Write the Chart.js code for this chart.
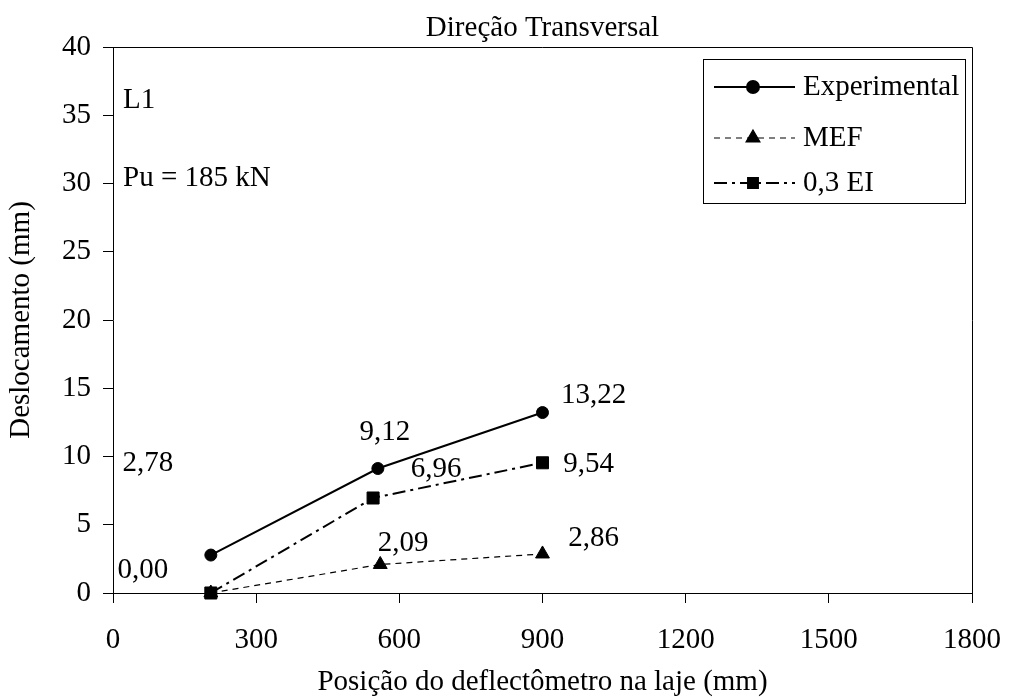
<!DOCTYPE html>
<html>
<head>
<meta charset="utf-8">
<script src="https://cdn.jsdelivr.net/npm/chart.js@4/dist/chart.umd.min.js"></script>
<style>
  html, body { margin: 0; padding: 0; background: #ffffff; }
  #wrap { width: 1012px; height: 700px; }
</style>
</head>
<body>
<div id="wrap"><canvas id="c" width="1012" height="700"></canvas></div>
<script>
// ---- Data ----
const seriesNames = ['Experimental', 'MEF', '0,3 EI'];
const expX = [205, 555, 900];
const expY = [2.78, 9.12, 13.22];
const mefX = [205, 560, 900];
const mefY = [0.00, 2.09, 2.86];
const eiX  = [205, 545, 900];
const eiY  = [0.00, 6.96, 9.54];
const xTicks = [0, 300, 600, 900, 1200, 1500, 1800];
const yTicks = [0, 5, 10, 15, 20, 25, 30, 35, 40];
const titleText = 'Direção Transversal';
const xTitle = 'Posição do deflectômetro na laje (mm)';
const yTitle = 'Deslocamento (mm)';
const notes = ['L1', 'Pu = 185 kN'];

// ---- Styling / label placement (not data) ----
const FONT = "'Liberation Serif', 'Times New Roman', serif";
const FS = 29;
// offsets (px) from each point to the centre of its value label
const labelOffsets = [
  [[-63, -92], [7, -36], [51, -17]],      // Experimental
  [null, [23, -21], [51, -16]],           // MEF (its 0,00 coincides with the EI one)
  [[-68, -23], [63, -29], [46, 2]]        // 0,3 EI
];

function pts(xs, ys) { return xs.map((x, i) => ({ x: x, y: ys[i] })); }
function fmt(v) { return v.toFixed(2).replace('.', ','); }

const dsStyles = [
  { borderWidth: 2, borderDash: [], pointStyle: 'circle', pointRadius: 6 },
  { borderWidth: 1.2, borderDash: [6, 5], pointStyle: 'triangle', pointRadius: 8 },
  { borderWidth: 2, borderDash: [13, 5, 3, 5], pointStyle: 'rect', pointRadius: 8.5 }
];
const dataSets = [pts(expX, expY), pts(mefX, mefY), pts(eiX, eiY)];

const decor = {
  id: 'decor',
  afterDraw(chart) {
    const ctx = chart.ctx;
    const a = chart.chartArea;
    ctx.save();
    // plot border (top + right)
    ctx.strokeStyle = '#000';
    ctx.lineWidth = 1;
    ctx.beginPath();
    ctx.moveTo(a.left, a.top + 0.5);
    ctx.lineTo(a.right + 0.5, a.top + 0.5);
    ctx.lineTo(a.right + 0.5, a.bottom);
    ctx.stroke();

    ctx.fillStyle = '#000';
    ctx.font = FS + 'px ' + FONT;
    // title
    ctx.textAlign = 'center';
    ctx.textBaseline = 'middle';
    ctx.fillText(titleText, (a.left + a.right) / 2, 28);

    // notes
    ctx.textAlign = 'left';
    ctx.fillText(notes[0], a.left + 10, 100);
    ctx.fillText(notes[1], a.left + 10, 178);

    // data labels
    ctx.textAlign = 'center';
    chart.data.datasets.forEach((ds, di) => {
      const meta = chart.getDatasetMeta(di);
      meta.data.forEach((el, i) => {
        const off = labelOffsets[di][i];
        if (!off) return;
        ctx.fillText(fmt(ds.data[i].y), el.x + off[0], el.y + off[1]);
      });
    });

    // legend
    const lx = 703, ly = 59, lw = 262, lh = 144;
    ctx.fillStyle = '#fff';
    ctx.fillRect(lx, ly, lw, lh);
    ctx.strokeStyle = '#000';
    ctx.lineWidth = 1;
    ctx.setLineDash([]);
    ctx.strokeRect(lx + 0.5, ly + 0.5, lw, lh);
    const rows = [87, 138, 183];
    chart.data.datasets.forEach((ds, di) => {
      const y = rows[di];
      ctx.strokeStyle = '#000';
      ctx.lineWidth = ds.borderWidth;
      ctx.setLineDash(ds.borderDash);
      ctx.beginPath();
      ctx.moveTo(714, y);
      ctx.lineTo(795, y);
      ctx.stroke();
      ctx.setLineDash([]);
      ctx.fillStyle = '#000';
      Chart.helpers.drawPoint(ctx, {
        pointStyle: ds.pointStyle,
        radius: di === 2 ? 7 : ds.pointRadius,
        rotation: 0,
        borderWidth: 1
      }, 753, y);
      ctx.fillStyle = '#000';
      ctx.textAlign = 'left';
      ctx.textBaseline = 'middle';
      ctx.font = FS + 'px ' + FONT;
      ctx.fillText(ds.label, 803, y);
    });
    ctx.restore();
  }
};

new Chart(document.getElementById('c'), {
  type: 'scatter',
  data: {
    datasets: dataSets.map((d, i) => Object.assign({
      label: seriesNames[i],
      data: d,
      showLine: true,
      borderColor: '#000',
      backgroundColor: '#000',
      pointBackgroundColor: '#000',
      pointBorderColor: '#000',
      pointBorderWidth: 1,
      fill: false,
      tension: 0
    }, dsStyles[i], { pointHoverRadius: dsStyles[i].pointRadius }))
  },
  options: {
    responsive: false,
    animation: false,
    devicePixelRatio: 1,
    clip: false,
    layout: { padding: { top: 47, right: 40, left: 0, bottom: 0 } },
    plugins: {
      legend: { display: false },
      title: { display: false },
      tooltip: { enabled: false }
    },
    scales: {
      x: {
        type: 'linear',
        min: xTicks[0], max: xTicks[xTicks.length - 1],
        afterBuildTicks: (s) => { s.ticks = xTicks.map(v => ({ value: v })); },
        afterFit: (s) => { s.height = 107; s.paddingLeft = 0; s.paddingRight = 0; },
        ticks: { color: '#000', font: { family: FONT, size: FS }, padding: 20, maxRotation: 0, autoSkip: false, callback: (v) => String(v) },
        grid: { drawOnChartArea: false, drawTicks: true, tickLength: 10, color: '#000', lineWidth: 1 },
        border: { display: true, color: '#000', width: 1 },
        title: { display: true, text: xTitle, color: '#000', font: { family: FONT, size: FS }, padding: { top: 0, bottom: 0 } }
      },
      y: {
        type: 'linear',
        min: yTicks[0], max: yTicks[yTicks.length - 1],
        afterBuildTicks: (s) => { s.ticks = yTicks.map(v => ({ value: v })); },
        afterFit: (s) => { s.width = 113; s.paddingTop = 0; s.paddingBottom = 0; },
        ticks: { color: '#000', font: { family: FONT, size: FS }, padding: 12, autoSkip: false, callback: (v) => String(v) },
        grid: { drawOnChartArea: false, drawTicks: true, tickLength: 10, color: '#000', lineWidth: 1 },
        border: { display: true, color: '#000', width: 1 },
        title: { display: true, text: yTitle, color: '#000', font: { family: FONT, size: FS }, padding: { top: 4, bottom: 0 } }
      }
    }
  },
  plugins: [decor]
});
</script>
</body>
</html>
